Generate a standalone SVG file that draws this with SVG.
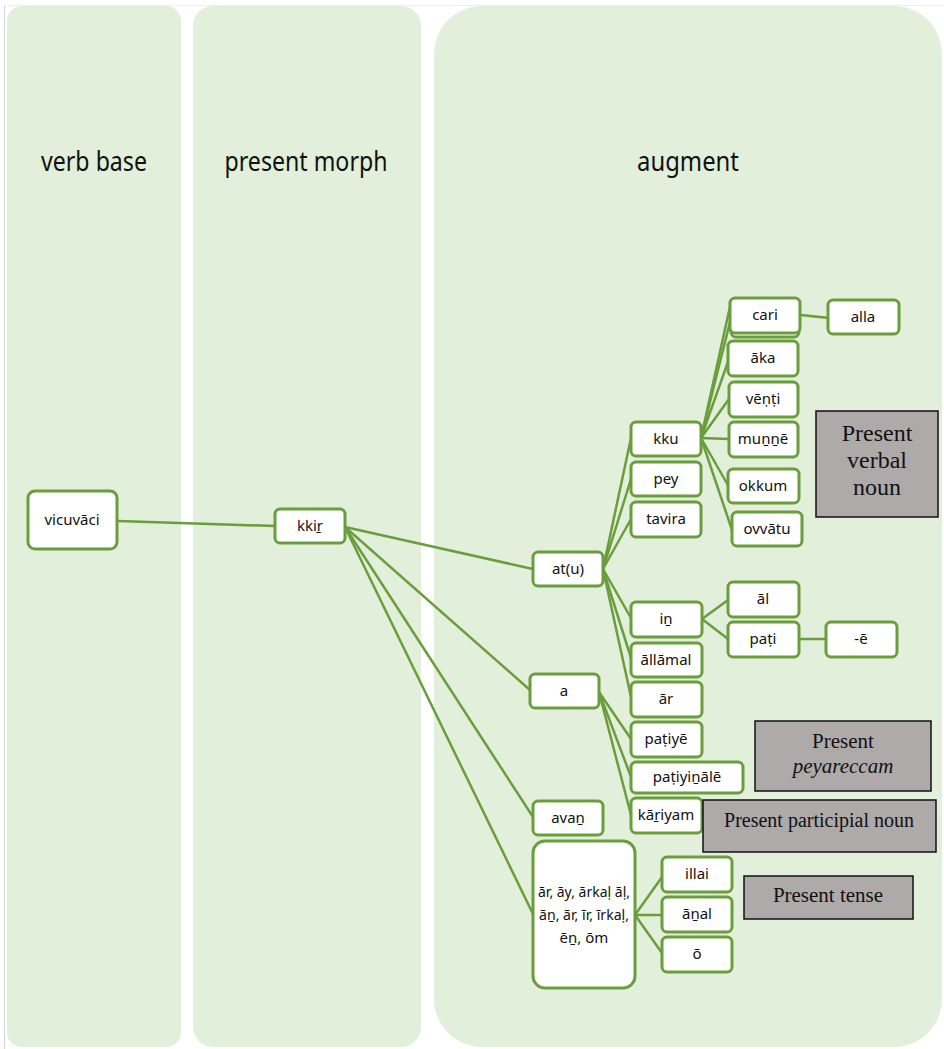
<svg xmlns="http://www.w3.org/2000/svg" width="944" height="1049" viewBox="0 0 944 1049">
<style>
.panel{fill:#E2EFDA}
.hd{font-family:"Noto Sans","Liberation Sans",sans-serif;font-size:27px;fill:#111;text-anchor:middle}
.n rect{fill:#fff;stroke:#6A9E3D;stroke-width:3}
.n text{font-family:"Noto Sans","Liberation Sans",sans-serif;font-size:15px;fill:#111;text-anchor:middle}
.c line{stroke:#6A9E3D;stroke-width:2.5;stroke-linecap:round}
.g rect{fill:#AEAAAA;stroke:#111;stroke-width:1.5}
.g text{font-family:"Liberation Serif","Times New Roman",serif;fill:#111;text-anchor:middle}
</style>
<rect width="944" height="1049" fill="#fff"/>
<line x1="4.5" y1="5" x2="4.5" y2="1049" stroke="#D4D4D4" stroke-width="1"/>
<line x1="4" y1="5.5" x2="944" y2="5.5" stroke="#EFEFEF" stroke-width="1"/>
<g id="panels">
<rect class="panel" x="7" y="6" width="174" height="1041" rx="15"/>
<rect class="panel" x="193" y="6" width="228" height="1041" rx="20"/>
<rect class="panel" x="434" y="6" width="508" height="1041" rx="48"/>
<text class="hd" x="94" y="171" textLength="106" lengthAdjust="spacingAndGlyphs">verb base</text>
<text class="hd" x="306" y="171" textLength="163" lengthAdjust="spacingAndGlyphs">present morph</text>
<text class="hd" x="688" y="171" textLength="102" lengthAdjust="spacingAndGlyphs">augment</text>
</g>
<g id="connectors" class="c">
<line x1="118" y1="521" x2="275" y2="526"/>
<line x1="345" y1="527" x2="533" y2="569"/>
<line x1="345" y1="527" x2="530" y2="690"/>
<line x1="345" y1="527" x2="533" y2="817"/>
<line x1="345" y1="527" x2="533" y2="914"/>
<line x1="603" y1="569" x2="631" y2="438"/>
<line x1="603" y1="569" x2="631" y2="479"/>
<line x1="603" y1="569" x2="631" y2="519"/>
<line x1="603" y1="569" x2="631" y2="618"/>
<line x1="603" y1="569" x2="631" y2="658"/>
<line x1="603" y1="569" x2="631" y2="697"/>
<line x1="599" y1="692" x2="631" y2="739"/>
<line x1="599" y1="692" x2="631" y2="777"/>
<line x1="599" y1="692" x2="631" y2="815"/>
<line x1="701" y1="438" x2="731" y2="302"/>
<line x1="701" y1="438" x2="730" y2="322"/>
<line x1="701" y1="438" x2="729" y2="359"/>
<line x1="701" y1="438" x2="729" y2="399"/>
<line x1="701" y1="438" x2="729" y2="439"/>
<line x1="701" y1="438" x2="729" y2="487"/>
<line x1="701" y1="438" x2="732" y2="530"/>
<line x1="801" y1="315" x2="829" y2="318"/>
<line x1="702" y1="619" x2="728" y2="600"/>
<line x1="702" y1="619" x2="728" y2="639"/>
<line x1="799" y1="639" x2="826" y2="639"/>
<line x1="635" y1="915" x2="662" y2="877"/>
<line x1="635" y1="915" x2="662" y2="915"/>
<line x1="635" y1="915" x2="662" y2="953"/>
</g>
<g id="n-vicuvaci" class="n"><rect x="28" y="491" width="89" height="58" rx="7"/><text x="72" y="525">vicuvāci</text></g>
<g id="n-kkir" class="n"><rect x="275" y="509" width="70" height="34" rx="5"/><text x="310" y="531">kkiṟ</text></g>
<g id="n-atu" class="n"><rect x="533" y="552" width="70" height="34" rx="5"/><text x="568" y="574">at(u)</text></g>
<g id="n-a" class="n"><rect x="530" y="674" width="69" height="34" rx="5"/><text x="564" y="696">a</text></g>
<g id="n-avan" class="n"><rect x="533" y="801" width="70" height="34" rx="5"/><text x="568" y="823">avaṉ</text></g>
<g id="n-ar-list" class="n"><rect x="533" y="841" width="102" height="147" rx="12"/>
<text x="584" y="897" textLength="92" lengthAdjust="spacingAndGlyphs">ār, āy, ārkaḷ āḷ,</text><text x="584" y="920" textLength="90" lengthAdjust="spacingAndGlyphs">āṉ, ār, īr, īrkaḷ,</text><text x="584" y="943">ēṉ, ōm</text></g>
<g id="n-kku" class="n"><rect x="631" y="422" width="70" height="34" rx="5"/><text x="666" y="444">kku</text></g>
<g id="n-pey" class="n"><rect x="631" y="462" width="70" height="34" rx="5"/><text x="666" y="484">pey</text></g>
<g id="n-tavira" class="n"><rect x="631" y="502" width="70" height="35" rx="5"/><text x="666" y="524">tavira</text></g>
<g id="n-in" class="n"><rect x="631" y="602" width="71" height="35" rx="5"/><text x="666" y="624">iṉ</text></g>
<g id="n-allamal" class="n"><rect x="631" y="643" width="71" height="34" rx="5"/><text x="666" y="665">āllāmal</text></g>
<g id="n-ar" class="n"><rect x="631" y="682" width="71" height="35" rx="5"/><text x="666" y="704">ār</text></g>
<g id="n-patiye" class="n"><rect x="631" y="722" width="71" height="35" rx="5"/><text x="666" y="744">paṭiyē</text></g>
<g id="n-patiyinale" class="n"><rect x="631" y="762" width="112" height="31" rx="5"/><text x="687" y="782">paṭiyiṉālē</text></g>
<g id="n-kariyam" class="n"><rect x="631" y="798" width="71" height="35" rx="5"/><text x="666" y="820">kāṟiyam</text></g>
<g id="n-cari" class="n"><rect x="731" y="302" width="68" height="35" rx="5"/><rect x="730" y="298" width="70" height="35" rx="5"/><text x="765" y="320">cari</text></g>
<g id="n-alla" class="n"><rect x="828" y="300" width="71" height="34" rx="5"/><text x="863" y="322">alla</text></g>
<g id="n-aka" class="n"><rect x="728" y="341" width="70" height="35" rx="5"/><text x="763" y="363">āka</text></g>
<g id="n-venti" class="n"><rect x="729" y="382" width="69" height="35" rx="5"/><text x="763" y="404">vēṇṭi</text></g>
<g id="n-munne" class="n"><rect x="729" y="422" width="69" height="35" rx="5"/><text x="763" y="444">muṉṉē</text></g>
<g id="n-okkum" class="n"><rect x="728" y="469" width="71" height="34" rx="5"/><text x="763" y="491">okkum</text></g>
<g id="n-ovvatu" class="n"><rect x="732" y="512" width="70" height="34" rx="5"/><text x="767" y="534">ovvātu</text></g>
<g id="n-al" class="n"><rect x="728" y="582" width="71" height="35" rx="5"/><text x="763" y="604">āl</text></g>
<g id="n-pati" class="n"><rect x="728" y="622" width="71" height="35" rx="5"/><text x="763" y="644">paṭi</text></g>
<g id="n-e" class="n"><rect x="826" y="622" width="71" height="35" rx="5"/><text x="861" y="644">-ē</text></g>
<g id="n-illai" class="n"><rect x="662" y="857" width="70" height="35" rx="5"/><text x="697" y="879">illai</text></g>
<g id="n-anal" class="n"><rect x="662" y="897" width="70" height="35" rx="5"/><text x="697" y="919">āṉal</text></g>
<g id="n-o" class="n"><rect x="662" y="937" width="70" height="35" rx="5"/><text x="697" y="959">ō</text></g>
<g id="g-verbal-noun" class="g"><rect x="816" y="411" width="122" height="106"/>
<text x="877" y="441" font-size="24">Present</text><text x="877" y="468" font-size="24">verbal</text><text x="877" y="495" font-size="24">noun</text></g>
<g id="g-peyareccam" class="g"><rect x="755" y="721" width="176" height="70"/>
<text x="843" y="748" font-size="21">Present</text><text x="843" y="773" font-size="21" font-style="italic">peyareccam</text></g>
<g id="g-participial" class="g"><rect x="703" y="800" width="233" height="52"/>
<text x="819" y="827" font-size="20">Present participial noun</text></g>
<g id="g-tense" class="g"><rect x="744" y="876" width="169" height="43"/>
<text x="828" y="902" font-size="21">Present tense</text></g>
</svg>
